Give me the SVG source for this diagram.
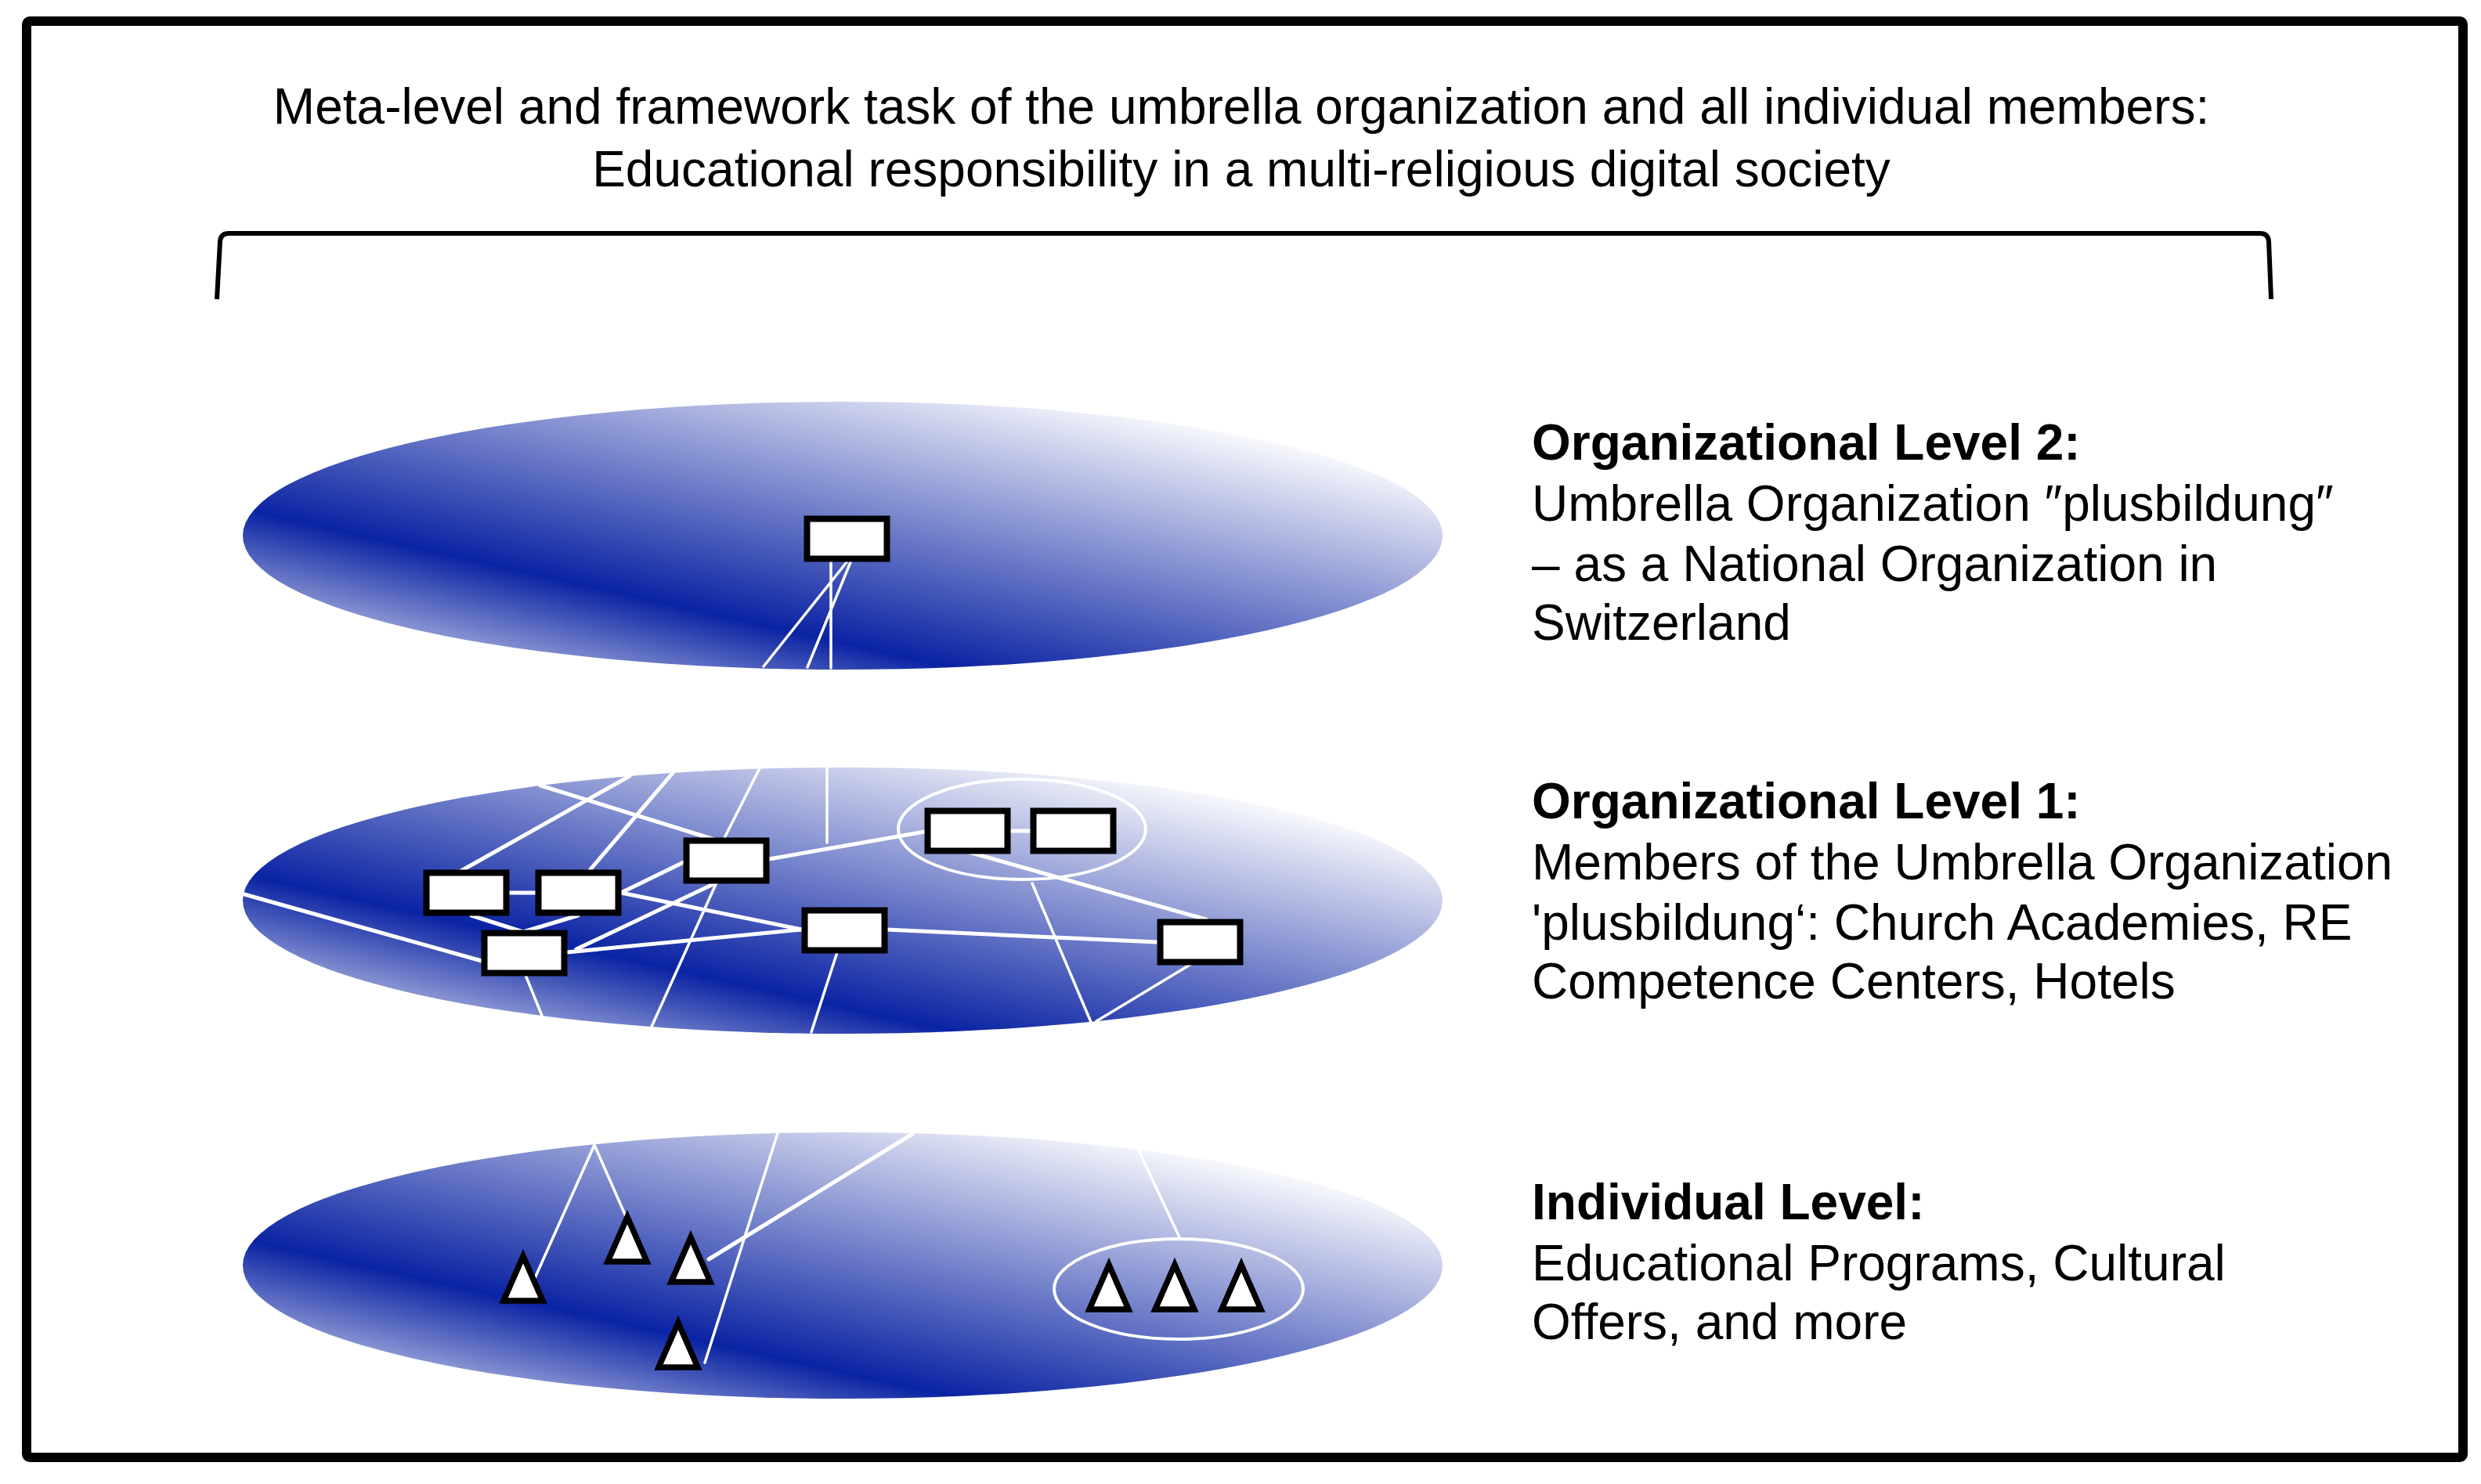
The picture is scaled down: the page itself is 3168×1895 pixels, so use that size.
<svg xmlns="http://www.w3.org/2000/svg" width="3168" height="1895" viewBox="0 0 3168 1895">
<style>
.frame{fill:#ffffff;stroke:#000000;stroke-width:12}
.bracket{fill:none;stroke:#000000;stroke-width:6;stroke-linecap:butt}
.plane{fill:url(#blue)}
.ring{fill:none;stroke:#ffffff;stroke-width:4}
.link{stroke:#ffffff;stroke-width:5;stroke-linecap:round;fill:none}
.thin{stroke-width:3.5}
.box{fill:#ffffff;stroke:#000000;stroke-width:8}
.tri{fill:#ffffff;stroke:#000000;stroke-width:7.5;stroke-linejoin:miter}
text{font-family:"Liberation Sans",Arial,Helvetica,sans-serif;font-size:64px;fill:#000000}
.b{font-weight:bold}
</style>
<defs>
<linearGradient id="blue" x1="0" y1="1" x2="1" y2="0">
<stop offset="0" stop-color="#ffffff"/>
<stop offset="0.3" stop-color="#0a23a3"/>
<stop offset="0.87" stop-color="#ffffff"/>
</linearGradient>
<path id="triangle" d="M0,0 L25,57 L-25,57 Z"/>
</defs>

<rect class="frame" x="34" y="27" width="3111" height="1834" rx="4"/>

<g id="title">
<text x="1585" y="158" text-anchor="middle">Meta-level and framework task of the umbrella organization and all individual members:</text>
<text x="1585" y="238" text-anchor="middle">Educational responsibility in a multi-religious digital society</text>
</g>
<path class="bracket" d="M277,382 L281,308 Q282,298 292,298 L2886,298 Q2896,298 2897,308 L2900,382"/>

<g id="planes">
<ellipse id="plane-level2" class="plane" cx="1076" cy="684" rx="766" ry="171"/>
<ellipse id="plane-level1" class="plane" cx="1076" cy="1150" rx="766" ry="170"/>
<ellipse id="plane-individual" class="plane" cx="1076" cy="1616" rx="766" ry="170"/>
<ellipse id="cluster-level1" class="ring" cx="1305" cy="1059" rx="158" ry="64"/>
<ellipse id="cluster-individual" class="ring" cx="1505" cy="1646" rx="159" ry="64"/>
</g>

<g id="connectors">
<line class="link thin" x1="1081" y1="718" x2="975" y2="851"/>
<line class="link thin" x1="1061" y1="718" x2="1061" y2="853"/>
<line class="link thin" x1="1086" y1="718" x2="1031" y2="852"/>

<line class="link" x1="690" y1="1003" x2="925" y2="1076"/>
<line class="link" x1="804" y1="991" x2="587" y2="1113"/>
<line class="link" x1="859" y1="987" x2="754" y2="1110"/>
<line class="link thin" x1="970" y1="981" x2="925" y2="1070"/>
<line class="link thin" x1="1056" y1="980" x2="1056" y2="1076"/>
<line class="link" x1="982" y1="1097" x2="1181" y2="1062"/>
<line class="link" x1="1290" y1="1061" x2="1316" y2="1061"/>
<line class="link" x1="649" y1="1140" x2="684" y2="1140"/>
<line class="link" x1="602" y1="1169" x2="668" y2="1190"/>
<line class="link" x1="738" y1="1169" x2="668" y2="1190"/>
<line class="link" x1="312" y1="1142" x2="615" y2="1227"/>
<line class="link" x1="793" y1="1140" x2="875" y2="1100"/>
<line class="link" x1="793" y1="1140" x2="1024" y2="1187"/>
<line class="link" x1="724" y1="1216" x2="1024" y2="1187"/>
<line class="link" x1="736" y1="1212" x2="915" y2="1127"/>
<line class="link thin" x1="915" y1="1127" x2="832" y2="1311"/>
<line class="link thin" x1="671" y1="1245" x2="692" y2="1297"/>
<line class="link thin" x1="1069" y1="1216" x2="1036" y2="1318"/>
<line class="link" x1="1132" y1="1187" x2="1478" y2="1203"/>
<line class="link" x1="1237" y1="1088" x2="1540" y2="1174"/>
<line class="link thin" x1="1318" y1="1128" x2="1393" y2="1305"/>
<line class="link thin" x1="1521" y1="1231" x2="1400" y2="1304"/>

<line class="link thin" x1="759" y1="1462" x2="683" y2="1632"/>
<line class="link thin" x1="759" y1="1462" x2="799" y2="1553"/>
<line class="link thin" x1="993" y1="1447" x2="900" y2="1740"/>
<line class="link" x1="1165" y1="1448" x2="905" y2="1608"/>
<line class="link thin" x1="1454" y1="1469" x2="1507" y2="1582"/>
</g>

<g id="node-umbrella"><rect class="box" x="1030.5" y="662.5" width="102" height="51"/></g>
<g id="node-m1"><rect class="box" x="544.5" y="1114.5" width="102" height="51"/></g>
<g id="node-m2"><rect class="box" x="687.5" y="1114.5" width="102" height="51"/></g>
<g id="node-m3"><rect class="box" x="876.5" y="1073.5" width="102" height="51"/></g>
<g id="node-m4"><rect class="box" x="618.5" y="1191.5" width="102" height="51"/></g>
<g id="node-m5"><rect class="box" x="1027.5" y="1162.5" width="102" height="51"/></g>
<g id="node-m6"><rect class="box" x="1481.5" y="1177.5" width="102" height="51"/></g>
<g id="node-m7"><rect class="box" x="1184.5" y="1035.5" width="102" height="51"/></g>
<g id="node-m8"><rect class="box" x="1319.5" y="1035.5" width="102" height="51"/></g>

<g id="node-p1"><use href="#triangle" class="tri" transform="translate(668,1604)"/></g>
<g id="node-p2"><use href="#triangle" class="tri" transform="translate(801,1554)"/></g>
<g id="node-p3"><use href="#triangle" class="tri" transform="translate(882,1580)"/></g>
<g id="node-p4"><use href="#triangle" class="tri" transform="translate(866,1689)"/></g>
<g id="node-p5"><use href="#triangle" class="tri" transform="translate(1416,1615)"/></g>
<g id="node-p6"><use href="#triangle" class="tri" transform="translate(1500,1615)"/></g>
<g id="node-p7"><use href="#triangle" class="tri" transform="translate(1585,1615)"/></g>

<g id="label-level2">
<text class="b" x="1956" y="587">Organizational Level 2:</text>
<text x="1956" y="665">Umbrella Organization ″plusbildung″</text>
<text x="1956" y="742">– as a National Organization in</text>
<text x="1956" y="817">Switzerland</text>
</g>
<g id="label-level1">
<text class="b" x="1956" y="1045">Organizational Level 1:</text>
<text x="1956" y="1123">Members of the Umbrella Organization</text>
<text x="1956" y="1200">'plusbildung‘: Church Academies, RE</text>
<text x="1956" y="1275">Competence Centers, Hotels</text>
</g>
<g id="label-individual">
<text class="b" x="1956" y="1557">Individual Level:</text>
<text x="1956" y="1635">Educational Programs, Cultural</text>
<text x="1956" y="1710">Offers, and more</text>
</g>
</svg>
